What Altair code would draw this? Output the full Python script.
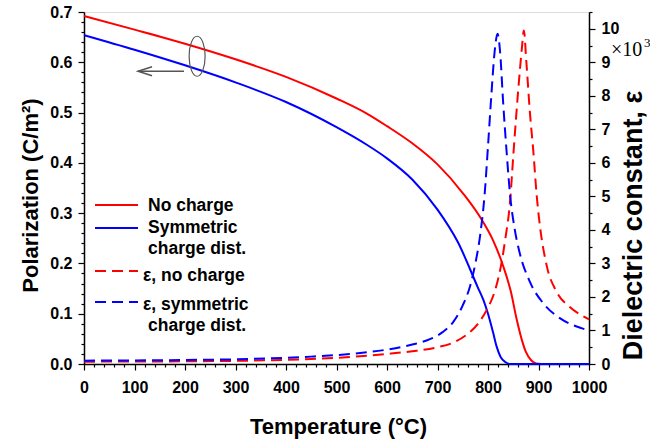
import altair as alt
import pandas as pd

# ---- data ----
T_P_RED = [0, 100, 200, 300, 400, 500, 560, 600, 650, 700, 750, 790, 810, 830, 845, 857, 867, 875, 885, 895, 905, 1000]
P_RED = [0.692, 0.665, 0.637, 0.606, 0.571, 0.528, 0.498, 0.473, 0.439, 0.397, 0.340, 0.283, 0.246, 0.195, 0.145, 0.088, 0.048, 0.024, 0.008, 0.001, 0.0, 0.0]

T_P_BLUE = [0, 100, 200, 300, 400, 500, 560, 600, 650, 700, 740, 780, 791, 800, 810, 817, 825, 834, 845, 1000]
P_BLUE = [0.654, 0.625, 0.594, 0.560, 0.521, 0.471, 0.436, 0.409, 0.367, 0.307, 0.243, 0.152, 0.127, 0.100, 0.063, 0.035, 0.014, 0.004, 0.0, 0.0]

T_E_RED = [0, 200, 329, 450, 527, 600, 650, 700, 730, 760, 780, 797, 814, 824, 834, 844, 850, 860, 867, 871, 876, 883, 890, 896, 903, 916, 936, 962, 989, 1000]
E_RED = [0.07, 0.08, 0.10, 0.15, 0.21, 0.30, 0.38, 0.50, 0.63, 0.90, 1.20, 1.60, 2.20, 2.80, 3.70, 4.90, 6.20, 8.20, 9.40, 9.95, 9.00, 7.50, 6.30, 5.10, 4.10, 2.95, 2.15, 1.70, 1.42, 1.33]

T_E_BLUE = [0, 200, 329, 450, 527, 600, 650, 685, 710, 731, 750, 765, 775, 785, 793, 800, 807, 813, 819, 824, 830, 837, 844, 852, 863, 883, 910, 943, 985, 1000]
E_BLUE = [0.10, 0.12, 0.15, 0.22, 0.30, 0.43, 0.58, 0.74, 0.95, 1.25, 1.75, 2.35, 3.00, 3.90, 5.00, 6.50, 8.10, 9.30, 9.85, 9.30, 7.80, 6.30, 5.00, 4.10, 3.30, 2.45, 1.80, 1.36, 1.07, 1.00]

SERIES = ["No charge", "Symmetric"]
COLORS = ["#ff0000", "#0000ff"]

X_TICKS = list(range(0, 1001, 20))
P_TICKS = [round(i * 0.02, 2) for i in range(36)]
E_TICKS = [i * 0.5 for i in range(22)]

FONT = "Liberation Sans"

df_p = pd.concat([
    pd.DataFrame({"T": T_P_RED, "P": P_RED, "s": SERIES[0]}),
    pd.DataFrame({"T": T_P_BLUE, "P": P_BLUE, "s": SERIES[1]}),
])
df_e = pd.concat([
    pd.DataFrame({"T": T_E_RED, "E": E_RED, "s": SERIES[0]}),
    pd.DataFrame({"T": T_E_BLUE, "E": E_BLUE, "s": SERIES[1]}),
])

common_axis = dict(grid=False, domainColor="black", domainWidth=1.5, tickColor="black",
                   tickWidth=1.2, labelFont=FONT, labelFontWeight="bold", labelFontSize=16,
                   labelColor="black", labelOverlap=False, labelFlush=False,
                   titleFont=FONT, titleFontWeight="bold", titleFontSize=22, titleColor="black")

x_axis = alt.Axis(values=X_TICKS, labelExpr="datum.value % 100 === 0 ? datum.value : ''",
                  tickSize={"condition": {"test": "datum.value % 100 === 0", "value": 6}, "value": 3},
                  labelPadding=9, title="Temperature (°C)", titleX=254, titleY=62,
                  titleBaseline="middle", **common_axis)
xs = alt.Scale(domain=[0, 1000], nice=False, zero=False)

p_major = "abs(datum.value*10 - round(datum.value*10)) < 1e-6"
left_axis = alt.Axis(values=P_TICKS, orient="left",
                     labelExpr=f"{p_major} ? format(datum.value, '.1f') : ''",
                     tickSize={"condition": {"test": p_major, "value": 6}, "value": 3},
                     labelPadding=6, title="Polarization (C/m²)", titleX=-54, titleY=183,
                     titleAngle=270, titleBaseline="middle", titleAlign="center", **common_axis)
ps = alt.Scale(domain=[0, 0.7], nice=False, zero=False)

e_axis_style = dict(common_axis)
e_axis_style["titleFontSize"] = 27
e_major = "abs(datum.value - round(datum.value)) < 1e-6"
right_axis = alt.Axis(values=E_TICKS, orient="right",
                      labelExpr=f"{e_major} ? format(datum.value, 'd') : ''",
                      tickSize={"condition": {"test": e_major, "value": 6}, "value": 3},
                      labelPadding=6, title="Dielectric constant, ε", titleX=44, titleY=213,
                      titleAngle=270, titleBaseline="middle", titleAlign="center", **e_axis_style)
es = alt.Scale(domain=[0, 10.5], nice=False, zero=False)

color = alt.Color("s:N", scale=alt.Scale(domain=SERIES, range=COLORS), legend=None)

p_lines = alt.Chart(df_p).mark_line(strokeWidth=2, interpolate="monotone").encode(
    x=alt.X("T:Q", scale=xs, axis=x_axis),
    y=alt.Y("P:Q", scale=ps, axis=left_axis),
    color=color, detail="s:N")

ELLIPSE = "M0,-1 A0.4,1 0 1,1 0,1 A0.4,1 0 1,1 0,-1 Z"
ell = alt.Chart(pd.DataFrame({"T": [224], "P": [0.612]})).mark_point(
    shape=ELLIPSE, size=1600, filled=False, stroke="#555555", strokeWidth=1.2, opacity=1).encode(
    x=alt.X("T:Q", scale=xs, axis=x_axis), y=alt.Y("P:Q", scale=ps, axis=left_axis))

arrow = alt.Chart(pd.DataFrame({"T": [198], "T2": [107], "P": [0.582]})).mark_rule(
    color="#555555", strokeWidth=1.5).encode(
    x=alt.X("T:Q", scale=xs, axis=x_axis), x2="T2:Q", y=alt.Y("P:Q", scale=ps, axis=left_axis))

HEAD = "M1.4,-0.45 L0,0 L1.4,0.45"
head = alt.Chart(pd.DataFrame({"T": [107], "P": [0.582]})).mark_point(
    shape=HEAD, size=400, filled=False, stroke="#555555", strokeWidth=1.5, opacity=1).encode(
    x=alt.X("T:Q", scale=xs, axis=x_axis), y=alt.Y("P:Q", scale=ps, axis=left_axis))

left = alt.layer(p_lines, ell, arrow, head)

e_lines = alt.Chart(df_e).mark_line(strokeWidth=2, strokeDash=[11, 6], interpolate="monotone").encode(
    x=alt.X("T:Q", scale=xs, axis=x_axis),
    y=alt.Y("E:Q", scale=es, axis=right_axis),
    color=color, detail="s:N")

right = alt.layer(e_lines)

one = pd.DataFrame({"k": [0]})

def leg_line(y, c, dash):
    kw = dict(color=c, strokeWidth=2)
    if dash:
        kw["strokeDash"] = [11, 6]
    return alt.Chart(one).mark_rule(**kw).encode(
        x=alt.value(11), x2=alt.value(54), y=alt.value(y))

def leg_text(y, t, x=64):
    return alt.Chart(pd.DataFrame({"t": [t]})).mark_text(
        align="left", baseline="middle", font=FONT, fontWeight="bold", fontSize=17.5,
        color="black").encode(x=alt.value(x), y=alt.value(y), text="t:N")

legend = [
    leg_line(193, COLORS[0], False), leg_text(194, "No charge"),
    leg_line(216, COLORS[1], False), leg_text(216, "Symmetric"), leg_text(237, "charge dist."),
    leg_line(259, COLORS[0], True), leg_text(264, "ε, no charge", 59),
    leg_line(290, COLORS[1], True), leg_text(293, "ε, symmetric", 59), leg_text(314, "charge dist."),
]

x10 = alt.Chart(pd.DataFrame({"t": ["×10"]})).mark_text(
    align="left", baseline="middle", font="Liberation Serif", fontSize=20, color="black").encode(
    x=alt.value(527), y=alt.value(38), text="t:N")
x10e = alt.Chart(pd.DataFrame({"t": ["3"]})).mark_text(
    align="left", baseline="middle", font="Liberation Serif", fontSize=13, color="black").encode(
    x=alt.value(560), y=alt.value(31), text="t:N")

chart = alt.layer(left, right, *legend, x10, x10e).resolve_scale(y="independent").properties(
    width=505, height=352,
    autosize=alt.AutoSizeParams(type="none"),
    padding={"left": 84, "top": 12, "right": 61, "bottom": 78},
).configure_view(stroke="black", strokeWidth=1.5).configure(background="white")

chart.save("out.html", embed_options={"renderer": "svg", "actions": False})
